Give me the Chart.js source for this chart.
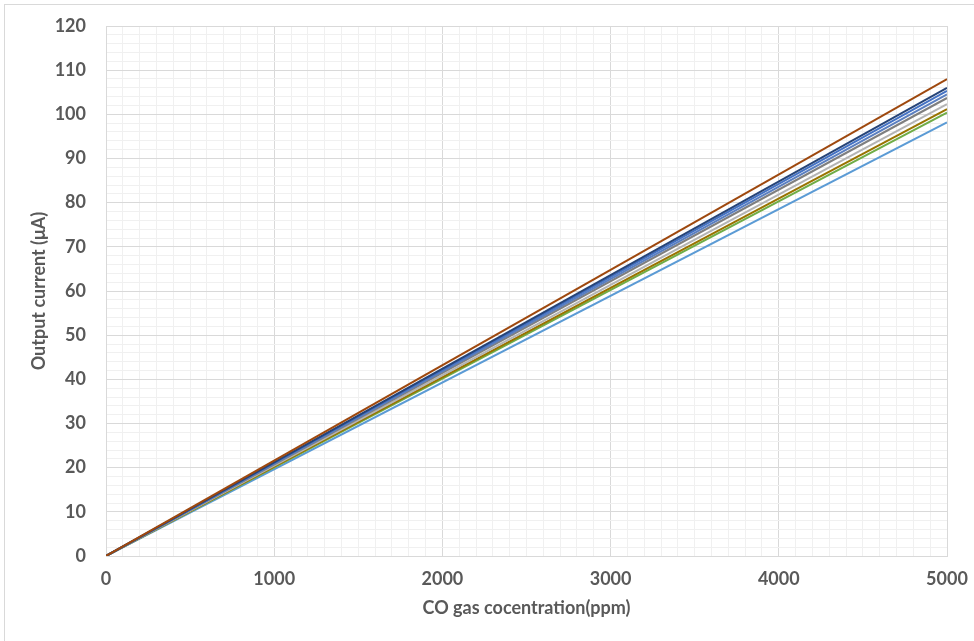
<!DOCTYPE html>
<html><head><meta charset="utf-8">
<script src="https://cdn.jsdelivr.net/npm/chart.js@4/dist/chart.umd.min.js"></script>
<style>
html,body{margin:0;padding:0;background:#fff;}
#frame{position:absolute;left:4px;top:4px;width:990px;height:660px;border:1px solid #d9d9d9;}
#wrap{position:absolute;left:0;top:0;width:974px;height:641px;}
</style></head>
<body>
<div id="frame"></div>
<div id="wrap"><canvas id="c" width="974" height="641"></canvas></div>
<script>
const concentration = [0, 5000];
const seriesNames = ["S1","S2","S3","S4","S5","S6","S7","S8","S9"];
const s1 = [0, 108.0];
const s2 = [0, 106.0];
const s3 = [0, 105.3];
const s4 = [0, 104.5];
const s5 = [0, 103.7];
const s6 = [0, 102.3];
const s7 = [0, 101.2];
const s8 = [0, 100.4];
const s9 = [0, 98.2];
const seriesValues = [s1,s2,s3,s4,s5,s6,s7,s8,s9];
const colors = ["#9E480E","#264478","#4472C4","#5B7FC0","#7F7F7F","#B4B4B4","#997300","#70AD47","#5B9BD5"];
const xTicksMajor = [0,1000,2000,3000,4000,5000];
const yTicksMajor = [0,10,20,30,40,50,60,70,80,90,100,110,120];

const datasets = seriesValues.map((vals,i)=>({
  label: seriesNames[i],
  data: concentration.map((x,j)=>({x:x,y:vals[j]})),
  borderColor: colors[i],
  backgroundColor: colors[i],
  borderWidth: 2,
  pointRadius: 0,
  tension: 0,
  fill: false
}));

const tickFont = {family:"Lato, 'Open Sans', sans-serif", size:18, weight:'bold'};
new Chart(document.getElementById('c'), {
  type:'line',
  data:{datasets},
  options:{
    responsive:false,
    animation:false,
    devicePixelRatio:1,
    layout:{padding:{top:26,right:27,left:0,bottom:0}},
    plugins:{legend:{display:false},tooltip:{enabled:false}},
    scales:{
      x:{
        type:'linear',min:0,max:5000,
        afterFit:(s)=>{s.height=85;s.paddingLeft=0;s.paddingRight=0;},
        ticks:{stepSize:100,autoSkip:false,maxRotation:0,minRotation:0,padding:12,color:'#595959',font:tickFont,
          callback:(v)=> xTicksMajor.includes(v)? String(v):''},
        grid:{drawTicks:false,lineWidth:1,color:(ctx)=> (ctx.tick && xTicksMajor.includes(ctx.tick.value))?'#d9d9d9':'#f0f0f0'},
        border:{display:true,color:'#d9d9d9'},
        title:{display:true,text:'CO gas cocentration(ppm)',color:'#595959',font:{family:"Lato, 'Open Sans', sans-serif",size:18,weight:'bold'},padding:{top:8,bottom:22}}
      },
      y:{
        type:'linear',min:0,max:120,
        afterFit:(s)=>{s.width=106;s.paddingTop=0;s.paddingBottom=0;},
        ticks:{stepSize:2,autoSkip:false,padding:20,color:'#595959',font:tickFont,
          callback:(v)=> yTicksMajor.includes(v)? String(v):''},
        grid:{drawTicks:false,lineWidth:1,color:(ctx)=> (ctx.tick && yTicksMajor.includes(ctx.tick.value))?'#d9d9d9':'#f0f0f0'},
        border:{display:true,color:'#d9d9d9'},
        title:{display:true,text:'Output current (μA)',color:'#595959',font:{family:"Lato, 'Open Sans', sans-serif",size:18,weight:'bold'},padding:{top:28,bottom:0}}
      }
    }
  }
});
</script>
</body></html>
